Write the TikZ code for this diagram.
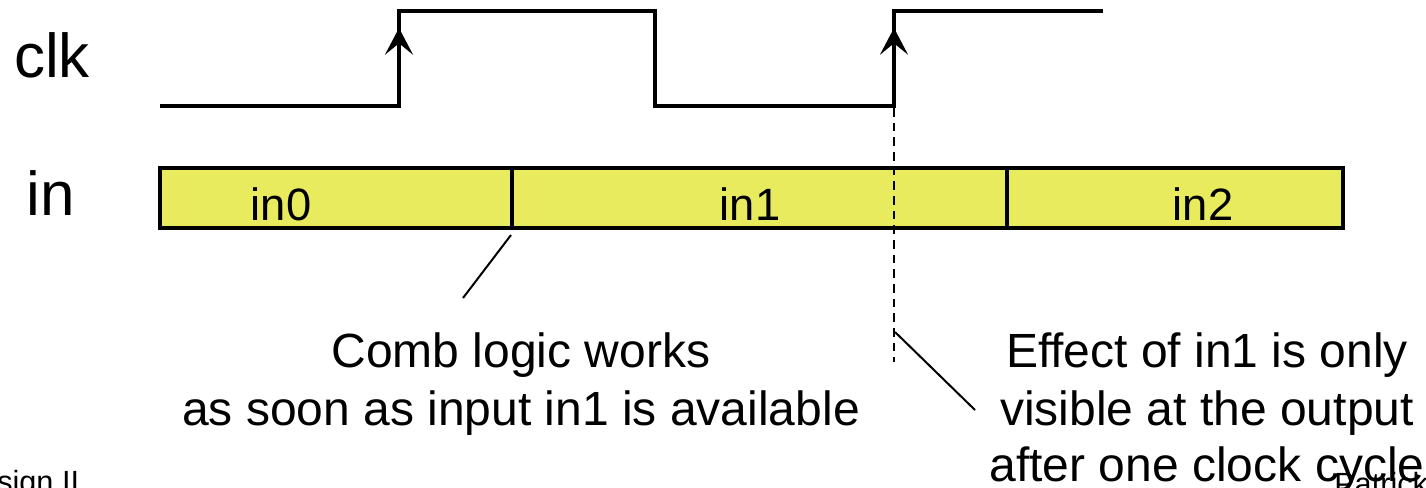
\documentclass[tikz,border=0pt]{standalone}
\usepackage{fontspec}
\setmainfont{Liberation Sans}
\usetikzlibrary{arrows.meta}
\definecolor{busfill}{HTML}{E8EB5E}
\begin{document}
\begin{tikzpicture}[x=0.75pt,y=-0.75pt,
  sig/.style={line width=2.3pt, line join=miter},
  edgearrow/.style={line width=2.3pt, -{Stealth[length=20pt,width=21pt,inset=8.5pt]}},
  busline/.style={line width=2.5pt},
  marker/.style={line width=2.1pt, dash pattern=on 6.5pt off 4.5pt},
  leader/.style={line width=1.5pt},
  signame/.style={anchor=base, inner sep=0pt, font=\fontsize{46.5}{50}\selectfont},
  buslabel/.style={anchor=base, inner sep=0pt, font=\fontsize{34}{40}\selectfont},
  note/.style={anchor=base, inner sep=0pt, font=\fontsize{36}{40}\selectfont},
  footer/.style={anchor=base west, inner sep=0pt, font=\fontsize{23}{26}\selectfont}]
\useasboundingbox (0,0) rectangle (1426,488);
\clip (0,0) rectangle (1426,488);

% signal names
\node[signame] (clk) at (52,78) {clk};
\node[signame] (in) at (51,215) {in};

% clock waveform
\coordinate (c0) at (160,106);
\coordinate (rise1) at (399,11);
\coordinate (fall1) at (655,106);
\coordinate (rise2) at (894,11);
\coordinate (c1) at (1103,11);
\draw[sig] (c0) -| (rise1) -| (fall1) -| (rise2) -- (c1);
\coordinate (rise1b) at (399,106);
\coordinate (rise1a) at (399,28);
\coordinate (rise2b) at (894,106);
\coordinate (rise2a) at (894,28);
\draw[edgearrow] (rise1b) -- (rise1a);
\draw[edgearrow] (rise2b) -- (rise2a);

% input bus
\draw[busline, fill=busfill] (160,168) rectangle (1343,228);
\coordinate (d1t) at (512,168);
\coordinate (d1b) at (512,228);
\coordinate (d2t) at (1007,168);
\coordinate (d2b) at (1007,228);
\draw[busline] (d1t) -- (d1b);
\draw[busline] (d2t) -- (d2b);
\node[buslabel] (in0) at (281,220) {in0};
\node[buslabel] (in1) at (750,220) {in1};
\node[buslabel] (in2) at (1203,220) {in2};

% clock edge marker
\coordinate (mtop) at (894,108);
\coordinate (mbot) at (894,362);
\draw[marker] (mtop) -- (mbot);

% annotations
\node[note] (combA) at (521,367) {Comb logic works};
\node[note] (combB) at (521,425) {as soon as input in1 is available};
\node[note] (effA) at (1207,367) {Effect of in1 is only};
\node[note] (effB) at (1207,425) {visible at the output};
\node[note] (effC) at (1207,481) {after one clock cycle};

\coordinate (l1a) at (511,235);
\coordinate (l1b) at (463,298);
\draw[leader] (l1a) -- (l1b);
\coordinate (l2a) at (895,332);
\coordinate (l2b) at (975,410);
\draw[leader] (l2a) -- (l2b);

% footer
\node[footer] (fl) at (-3,492) {sign II};
\node[footer] (fr) at (1334,494) {Patrick};
\end{tikzpicture}
\end{document}
